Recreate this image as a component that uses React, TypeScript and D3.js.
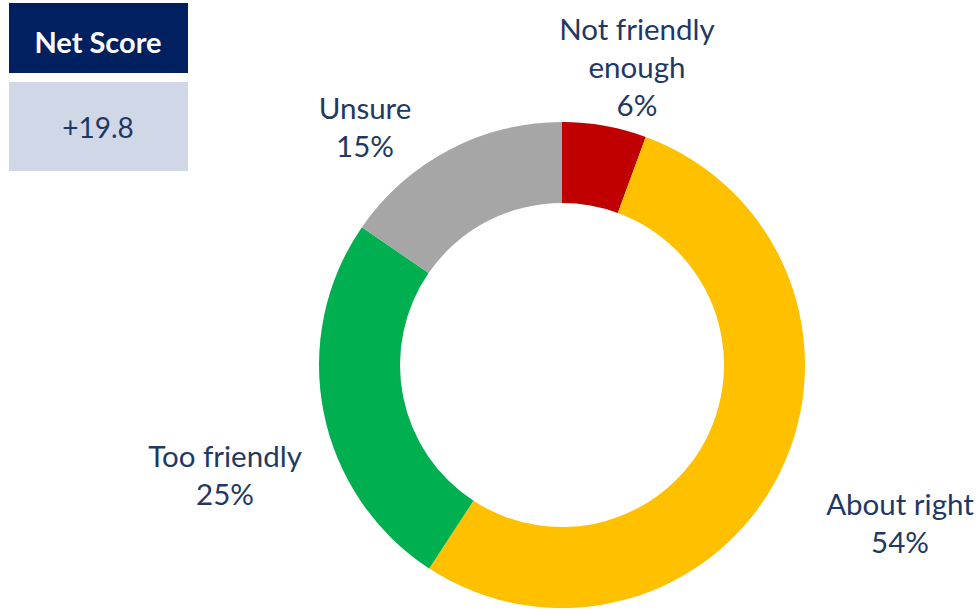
import React from 'react';
import * as d3 from 'd3';

const categories = ['Not friendly enough', 'About right', 'Too friendly', 'Unsure'];
const shares = [5.6, 53.6, 25.4, 15.4];
const shareLabels = ['6%', '54%', '25%', '15%'];
const colors = ['#C00000', '#FFC000', '#00B050', '#A6A6A6'];
const netScore = '+19.8';

// label anchor positions (centre of first line), hand placed like the original
const labelLines = [['Not friendly', 'enough', '6%'], ['About right', '54%'], ['Too friendly', '25%'], ['Unsure', '15%']];
const labelPos = [
  { x: 637, y: 28 },
  { x: 900, y: 503 },
  { x: 225, y: 455 },
  { x: 365, y: 107 },
];

const width = 977;
const height = 609;
const cx = 562;
const cy = 365;
const outerR = 243;
const innerR = 162;

const App: React.FC = () => {
  const pie = d3.pie<number>().sort(null).value(d => d);
  const arcs = pie(shares);
  const arc = d3.arc<d3.PieArcDatum<number>>().innerRadius(innerR).outerRadius(outerR);

  const font = 'Lato, "Open Sans", sans-serif';
  const textColor = '#1F3864';

  return (
    <svg width={width} height={height} style={{ position: 'absolute', left: 0, top: 0 }}>
      <rect x={0} y={0} width={width} height={height} fill="#fff" />
      {/* net score box */}
      <rect x={9} y={3} width={179} height={70} fill="#002060" />
      <text x={98} y={41} textAnchor="middle" dominantBaseline="central" fill="#fff"
        fontFamily={font} fontWeight={700} fontSize={29}>Net Score</text>
      <rect x={9} y={82} width={179} height={89} fill="#D0D8E7" />
      <text x={98} y={127} textAnchor="middle" dominantBaseline="central" fill={textColor}
        fontFamily={font} fontSize={28}>{netScore}</text>

      <g transform={`translate(${cx},${cy})`}>
        {arcs.map((a, i) => (
          <path key={categories[i]} d={arc(a) || ''} fill={colors[i]} />
        ))}
      </g>

      {labelLines.map((lines, i) => (
        <text key={categories[i] + shareLabels[i]} textAnchor="middle" fill={textColor}
          fontFamily={font} fontSize={29.5}>
          {lines.map((l, j) => (
            <tspan key={j} x={labelPos[i].x} y={labelPos[i].y + j * 38} dominantBaseline="central">{l}</tspan>
          ))}
        </text>
      ))}
    </svg>
  );
};

export default App;
